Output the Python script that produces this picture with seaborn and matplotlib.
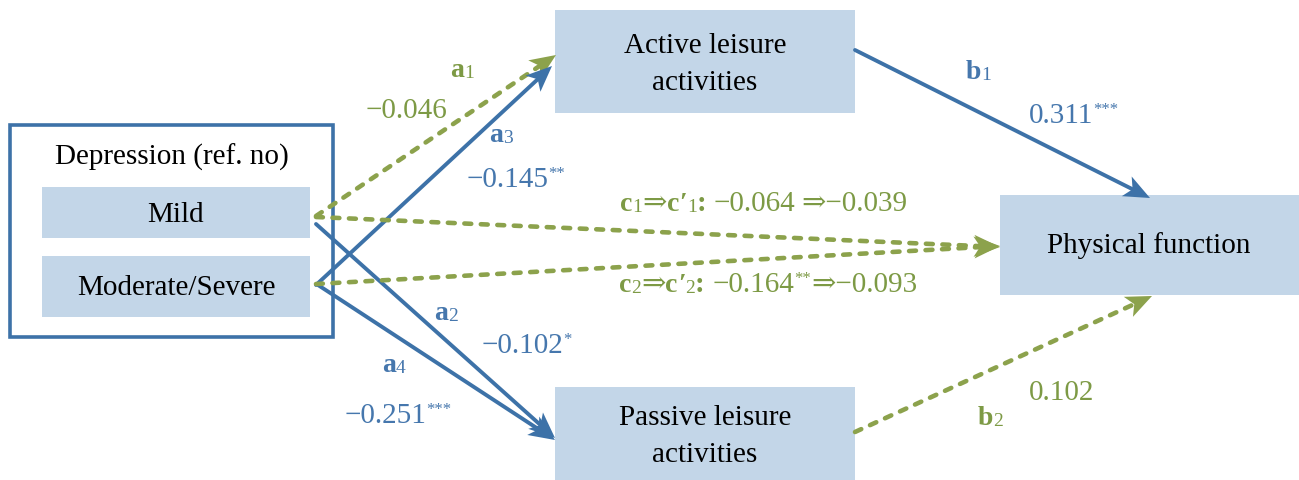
import numpy as np
import matplotlib
matplotlib.use("Agg")
import matplotlib.pyplot as plt
from matplotlib.patches import Rectangle, Polygon
import seaborn as sns

sns.set_theme(style="white")
plt.rcParams["font.family"] = ["Liberation Serif", "DejaVu Serif"]

# ---- model content -------------------------------------------------------
group_title = "Depression (ref. no)"
groups = ["Mild", "Moderate/Severe"]
mediators = ["Active leisure\nactivities", "Passive leisure\nactivities"]
outcome = "Physical function"

# path names, coefficients and significance stars
a_paths = ["a1", "a3", "a2", "a4"]
a_coef = [-0.046, -0.145, -0.102, -0.251]
a_sig = ["", "**", "*", "***"]
b_paths = ["b1", "b2"]
b_coef = [0.311, 0.102]
b_sig = ["***", ""]
c_paths = ["c1", "c2"]
c_total = [-0.064, -0.164]
c_total_sig = ["", "**"]
c_direct = [-0.039, -0.093]

# ---- styling -------------------------------------------------------------
BLUE = "#3d72a8"
BLUE_TXT = "#4677ad"
GREEN = "#8ca24c"
GREEN_TXT = "#7d9a45"
FILL = "#c3d6e8"
FS = 21
SUB = 14
STAR = 12

fig = plt.figure(figsize=(12.99, 4.80), dpi=100)
ax = fig.add_axes([0, 0, 1, 1])
ax.set_xlim(0, 1299)
ax.set_ylim(480, 0)
ax.axis("off")
renderer = fig.canvas.get_renderer()


def fmt(v):
    return f"{v:.3f}".replace("-", "\u2212")


def rich(x, y, pieces, color="black", align="center"):
    """Lay out (text, size, dy, weight) pieces on one baseline at y."""
    widths = []
    for s, size, dy, wt in pieces:
        t = ax.text(0, 0, s, fontsize=size, fontweight=wt)
        widths.append(t.get_window_extent(renderer).width if s.strip() else size * 0.3)
        t.remove()
    total = sum(widths)
    x0 = x - total / 2 if align == "center" else x
    for (s, size, dy, wt), w in zip(pieces, widths):
        ax.text(x0, y + dy, s, fontsize=size, fontweight=wt, color=color,
                ha="left", va="baseline", zorder=5)
        x0 += w


def name_pieces(p, prime=False):
    out = [(p[0], FS - 1, 0, "bold")]
    if prime:
        out.append(("\u2032", FS - 1, 0, "bold"))
    out.append((p[1:], SUB, 1, "normal"))
    return out


def value_pieces(v, sig):
    out = [(fmt(v), FS, 0, "normal")]
    if sig:
        out.append((sig, STAR, -9, "normal"))
    return out


# ---- boxes ---------------------------------------------------------------
ax.add_patch(Rectangle((10, 125), 323, 212, fill=False, ec=BLUE, lw=2.6, zorder=1))
ax.text(172, 165, group_title, ha="center", va="baseline", fontsize=FS, color="black")
group_boxes = [(42, 187, 268, 51), (42, 256, 268, 61)]
group_base = [222, 295]
for (x, y, w, h), name, yb in zip(group_boxes, groups, group_base):
    ax.add_patch(Rectangle((x, y), w, h, fc=FILL, ec="none", zorder=1))
    ax.text(x + w / 2, yb, name, ha="center", va="baseline", fontsize=FS, color="black")

med_boxes = [(555, 10, 300, 103), (555, 387, 300, 100)]
med_base = [(53, 90), (425, 462)]
for (x, y, w, h), name, yb in zip(med_boxes, mediators, med_base):
    ax.add_patch(Rectangle((x, y), w, h, fc=FILL, ec="none", zorder=1))
    for line, yy in zip(name.split("\n"), yb):
        ax.text(x + w / 2, yy, line, ha="center", va="baseline", fontsize=FS, color="black")

ax.add_patch(Rectangle((1000, 195), 305, 100, fc=FILL, ec="none", zorder=1))
ax.text(1149, 253, outcome, ha="center", va="baseline", fontsize=FS, color="black")


# ---- arrows --------------------------------------------------------------
def arrow(p0, p1, color, dashed, head_len=26, head_w=22):
    p0 = np.array(p0, float)
    p1 = np.array(p1, float)
    d = p1 - p0
    u = d / np.hypot(*d)
    n = np.array([-u[1], u[0]])
    base = p1 - u * head_len
    shaft_end = p1 - u * head_len * 0.6
    if dashed:
        ax.plot([p0[0], shaft_end[0]], [p0[1], shaft_end[1]], color=color, lw=3.3,
                ls=(0, (1.5, 2.1)), dash_capstyle="round", zorder=3)
    else:
        ax.plot([p0[0], shaft_end[0]], [p0[1], shaft_end[1]], color=color, lw=2.8,
                solid_capstyle="round", zorder=3)
    tri = [p1, base + n * head_w / 2, p1 - u * head_len * 0.75, base - n * head_w / 2]
    ax.add_patch(Polygon(tri, closed=True, fc=color, ec="none", zorder=4))


arrow((316, 216), (556, 55), GREEN, True)      # a1
arrow((316, 285), (552, 66), BLUE, False)      # a3
arrow((316, 224), (555, 438), BLUE, False)     # a2
arrow((318, 285), (555, 440), BLUE, False)     # a4
arrow((316, 217), (1000, 247), GREEN, True)    # c1
arrow((316, 284), (1000, 246), GREEN, True)    # c2
arrow((855, 50), (1150, 198), BLUE, False)     # b1
arrow((855, 432), (1152, 296), GREEN, True)    # b2

# ---- labels --------------------------------------------------------------
a_name_pos = [(462, 77), (501, 142), (446, 320), (394, 372)]
a_val_pos = [(406, 118), (516, 187), (527, 353), (398, 423)]
a_cols = [GREEN_TXT, BLUE_TXT, BLUE_TXT, BLUE_TXT]
for p, v, s, pn, pv, c in zip(a_paths, a_coef, a_sig, a_name_pos, a_val_pos, a_cols):
    rich(*pn, name_pieces(p), color=c)
    rich(*pv, value_pieces(v, s), color=c)

b_name_pos = [(978, 79), (990, 425)]
b_val_pos = [(1074, 123), (1062, 400)]
b_cols = [BLUE_TXT, GREEN_TXT]
for p, v, s, pn, pv, c in zip(b_paths, b_coef, b_sig, b_name_pos, b_val_pos, b_cols):
    rich(*pn, name_pieces(p), color=c)
    rich(*pv, value_pieces(v, s), color=c)

c_pos = [(764, 211), (768, 292)]
for p, tot, ts, direct, pos in zip(c_paths, c_total, c_total_sig, c_direct, c_pos):
    pieces = name_pieces(p) + [("\u21d2", FS, 0, "normal")] + name_pieces(p, prime=True)
    pieces += [(": ", FS, 0, "bold"), (fmt(tot), FS, 0, "normal")]
    pieces += [(ts, STAR, -9, "normal")] if ts else [(" ", FS, 0, "normal")]
    pieces += [("\u21d2" + fmt(direct), FS, 0, "normal")]
    rich(*pos, pieces, color=GREEN_TXT)

fig.savefig("out.png", dpi=100)
